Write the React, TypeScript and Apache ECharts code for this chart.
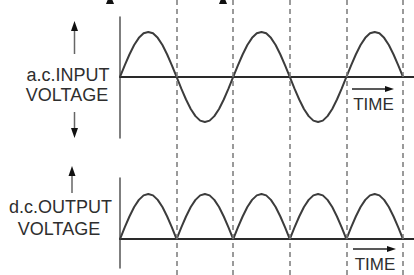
import React, { useEffect, useRef } from "react";
import * as echarts from "echarts";

// time in electrical degrees
const timeDeg = [
  0, 15, 30, 45, 60, 75, 90, 105, 120, 135, 150, 165,
  180, 195, 210, 225, 240, 255, 270, 285, 300, 315, 330, 345,
  360, 375, 390, 405, 420, 435, 450, 465, 480, 495, 510, 525,
  540, 555, 570, 585, 600, 615, 630, 645, 660, 675, 690, 705,
  720, 735, 750, 765, 780, 795, 810, 825, 840, 855, 870, 885,
  900,
];

const inputVoltage = [
  0, 0.26, 0.5, 0.71, 0.87, 0.97, 1, 0.97, 0.87, 0.71, 0.5, 0.26,
  0, -0.26, -0.5, -0.71, -0.87, -0.97, -1, -0.97, -0.87, -0.71, -0.5, -0.26,
  0, 0.26, 0.5, 0.71, 0.87, 0.97, 1, 0.97, 0.87, 0.71, 0.5, 0.26,
  0, -0.26, -0.5, -0.71, -0.87, -0.97, -1, -0.97, -0.87, -0.71, -0.5, -0.26,
  0, 0.26, 0.5, 0.71, 0.87, 0.97, 1, 0.97, 0.87, 0.71, 0.5, 0.26,
  0,
];

const outputVoltage = [
  0, 0.26, 0.5, 0.71, 0.87, 0.97, 1, 0.97, 0.87, 0.71, 0.5, 0.26,
  0, 0.26, 0.5, 0.71, 0.87, 0.97, 1, 0.97, 0.87, 0.71, 0.5, 0.26,
  0, 0.26, 0.5, 0.71, 0.87, 0.97, 1, 0.97, 0.87, 0.71, 0.5, 0.26,
  0, 0.26, 0.5, 0.71, 0.87, 0.97, 1, 0.97, 0.87, 0.71, 0.5, 0.26,
  0, 0.26, 0.5, 0.71, 0.87, 0.97, 1, 0.97, 0.87, 0.71, 0.5, 0.26,
  0,
];

const dividerDeg = [180, 360, 540, 720, 900];
const xMaxDeg = 935;

const topLabel = ["a.c.INPUT", "VOLTAGE"];
const bottomLabel = ["d.c.OUTPUT", "VOLTAGE"];
const timeLabel = "TIME";

export default function App() {
  const ref = useRef<HTMLDivElement>(null);

  useEffect(() => {
    if (!ref.current) return;
    const chart = echarts.init(ref.current, null, { renderer: "svg" });

    const FONT = "Liberation Sans, Arial, sans-serif";
    const txtColor = "#2e2e2e";
    const waveColor = "#3c3c3c";

    const pairs = (vals: number[]) => timeDeg.map((t, i) => [t, vals[i]]);

    const xAxisBase = (gridIndex: number, showLine: boolean) => ({
      type: "value",
      gridIndex,
      min: 0,
      max: xMaxDeg,
      axisLine: { show: showLine, onZero: true, lineStyle: { color: "#2a2a2a", width: 2 } },
      axisTick: { show: false },
      axisLabel: { show: false },
      splitLine: { show: false },
    });
    const yAxisBase = (gridIndex: number, min: number, max: number, showLine: boolean) => ({
      type: "value",
      gridIndex,
      min,
      max,
      axisLine: { show: showLine, onZero: false, lineStyle: { color: "#555", width: 1.5 } },
      axisTick: { show: false },
      axisLabel: { show: false },
      splitLine: { show: false },
    });

    const arrowUp = (x: number, tipY: number, headLen: number, tailY: number) => [
      { type: "line", shape: { x1: x, y1: tipY + headLen, x2: x, y2: tailY }, style: { stroke: "#666", lineWidth: 1.5 } },
      { type: "polygon", shape: { points: [[x - 3.5, tipY + headLen], [x + 3.5, tipY + headLen], [x, tipY]] }, style: { fill: "#111" } },
    ];
    const arrowDown = (x: number, tipY: number, headLen: number, tailY: number) => [
      { type: "line", shape: { x1: x, y1: tailY, x2: x, y2: tipY - headLen }, style: { stroke: "#666", lineWidth: 1.5 } },
      { type: "polygon", shape: { points: [[x - 3.5, tipY - headLen], [x + 3.5, tipY - headLen], [x, tipY]] }, style: { fill: "#111" } },
    ];
    const arrowRight = (y: number, tailX: number, tipX: number) => [
      { type: "line", shape: { x1: tailX, y1: y, x2: tipX - 8, y2: y }, style: { stroke: "#222", lineWidth: 1.5 } },
      { type: "polygon", shape: { points: [[tipX - 9, y - 3], [tipX - 9, y + 3], [tipX, y]] }, style: { fill: "#111" } },
    ];
    const text = (s: string, x: number, y: number, size: number) => ({
      type: "text",
      x,
      y,
      style: {
        text: s,
        fill: txtColor,
        fontSize: size,
        fontFamily: FONT,
        textAlign: "center",
        textVerticalAlign: "middle",
      },
    });

    chart.setOption({
      animation: false,
      backgroundColor: "#ffffff",
      grid: [
        { left: 120, right: 0, top: 17, height: 121 },
        { left: 120, right: 0, top: 178, height: 90 },
        { left: 120, right: 0, top: 0, height: 275 },
      ],
      xAxis: [xAxisBase(0, true), xAxisBase(1, true), xAxisBase(2, false)],
      yAxis: [
        yAxisBase(0, -1.356, 1.333, true),
        yAxisBase(1, -0.644, 1.356, true),
        yAxisBase(2, 0, 1, false),
      ],
      series: [
        {
          type: "scatter",
          xAxisIndex: 2,
          yAxisIndex: 2,
          data: [[0, 0]],
          symbolSize: 0,
          silent: true,
          z: 1,
          markLine: {
            silent: true,
            symbol: "none",
            label: { show: false },
            lineStyle: { type: [5, 4], color: "#7a7a7a", width: 1.5 },
            data: dividerDeg.map((d) => ({ xAxis: d })),
          },
        },
        {
          type: "line",
          xAxisIndex: 0,
          yAxisIndex: 0,
          data: pairs(inputVoltage),
          showSymbol: false,
          silent: true,
          z: 3,
          lineStyle: { color: waveColor, width: 2 },
        },
        {
          type: "line",
          xAxisIndex: 1,
          yAxisIndex: 1,
          data: pairs(outputVoltage),
          showSymbol: false,
          silent: true,
          z: 3,
          lineStyle: { color: waveColor, width: 2 },
        },
      ],
      graphic: [
        // cropped arrowheads from the previous figure at the top edge
        { type: "polygon", shape: { points: [[106, 4], [114, 4], [110, -6]] }, style: { fill: "#111" } },
        { type: "polygon", shape: { points: [[219, 4], [227, 4], [223, -6]] }, style: { fill: "#111" } },
        ...arrowUp(74.5, 21, 10, 54),
        ...arrowDown(74.5, 138, 10, 112),
        text(topLabel[0], 68, 75, 18),
        text(topLabel[1], 67, 95, 18),
        ...arrowUp(72, 166, 10, 193),
        text(bottomLabel[0], 60.5, 206.5, 18),
        text(bottomLabel[1], 59, 228.5, 18),
        ...arrowRight(89, 352, 394),
        text(timeLabel, 373.5, 104.5, 17),
        ...arrowRight(249, 353, 396),
        text(timeLabel, 375, 264, 17),
      ],
    });

    return () => chart.dispose();
  }, []);

  return (
    <div
      ref={ref}
      style={{ position: "fixed", left: 0, top: 0, width: 414, height: 275, background: "#fff" }}
    />
  );
}
